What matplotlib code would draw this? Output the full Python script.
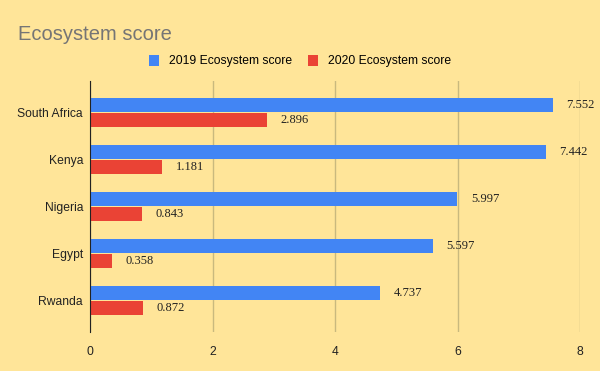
import matplotlib.pyplot as plt
import numpy as np

countries = ["South Africa", "Kenya", "Nigeria", "Egypt", "Rwanda"]
score_2019 = [7.552, 7.442, 5.997, 5.597, 4.737]
score_2020 = [2.896, 1.181, 0.843, 0.358, 0.872]
xticks = [0, 2, 4, 6, 8]

bg = "#FFE599"
blue = "#4285F4"
red = "#EA4335"

plt.rcParams["font.family"] = ["Liberation Sans", "DejaVu Sans"]

fig = plt.figure(figsize=(6, 3.71), dpi=100, facecolor=bg)
ax = fig.add_axes([0.15, 0.105, 0.8167, 0.677], facecolor=bg)

y = np.arange(len(countries))
h = 0.29
ax.barh(y - 0.155, score_2019, height=h, color=blue, zorder=3, label="2019 Ecosystem score")
ax.barh(y + 0.155, score_2020, height=h, color=red, zorder=3, label="2020 Ecosystem score")

for yi, v in zip(y, score_2019):
    ax.text(v + 0.22, yi - 0.155, f"{v:.3f}", va="center", ha="left",
            fontsize=9, family="Liberation Serif", color="#222222")
for yi, v in zip(y, score_2020):
    ax.text(v + 0.22, yi + 0.155, f"{v:.3f}", va="center", ha="left",
            fontsize=9, family="Liberation Serif", color="#222222")

ax.set_xlim(0, 8)
ax.set_ylim(4.67, -0.67)
ax.set_xticks(xticks)
ax.set_xticklabels([str(t) for t in xticks])
ax.set_yticks(y)
ax.set_yticklabels(countries)
ax.tick_params(axis="both", length=0, labelsize=8.7, colors="#222222")
ax.tick_params(axis="x", pad=10)
ax.tick_params(axis="y", pad=5)

ax.grid(axis="x", color="#C9B97E", linewidth=1, zorder=0)
for s in ["top", "right", "bottom"]:
    ax.spines[s].set_visible(False)
ax.spines["left"].set_color("#222222")
ax.spines["left"].set_zorder(4)

fig.text(0.03, 0.907, "Ecosystem score", fontsize=14.5, color="#757575", va="center", ha="left")

handles, labels = ax.get_legend_handles_labels()
fig.legend(handles, labels, loc="center", bbox_to_anchor=(0.5, 0.835), ncol=2,
           frameon=False, fontsize=8.7, handlelength=0.85, handleheight=1.0,
           columnspacing=1.3, handletextpad=0.8)

fig.savefig("out.png", dpi=100, facecolor=bg)
